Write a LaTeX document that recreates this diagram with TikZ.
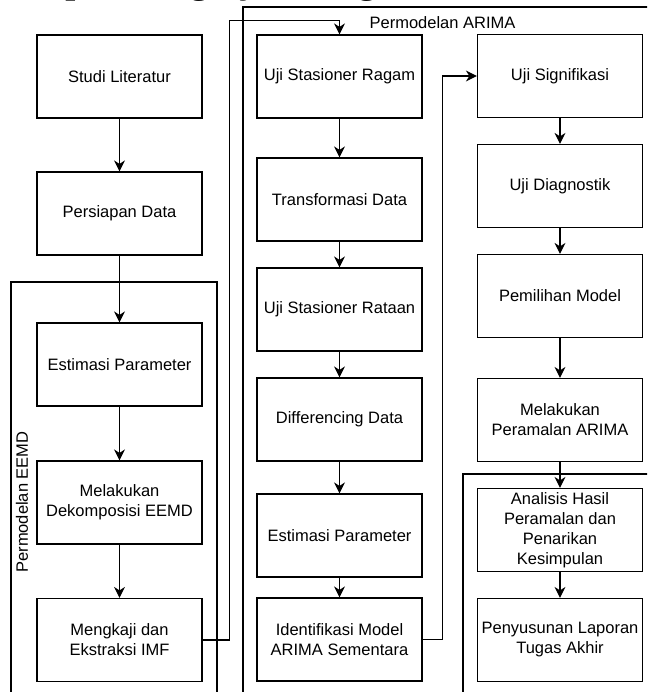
\documentclass[tikz,border=0pt]{standalone}
\usepackage{fontspec}
\setmainfont{Liberation Serif}
\setsansfont{Liberation Sans}
\usetikzlibrary{positioning,arrows.meta}

\tikzset{
  tahap/.style={draw,minimum width=165pt,minimum height=83pt,align=center,inner sep=2pt,font=\sffamily\fontsize{16.5}{20}\selectfont},
  judul/.style={inner sep=0pt,font=\sffamily\fontsize{16.5}{20}\selectfont},
}

\begin{document}
\begin{tikzpicture}[x=1pt,y=-1pt,node distance=110pt,>={Stealth[length=11pt,width=11pt,inset=3.5pt]},line width=1.2pt]
\useasboundingbox (0,0) rectangle (647,692);
\clip (0,0) rectangle (647,692);

% judul bab yang terpotong
\node[anchor=base west,inner sep=0pt,font=\bfseries\fontsize{36}{40}\selectfont] (judulbab) at (-12,-6) {Tahapan Pengerjaan Tugas};

% kolom kiri
\node[tahap] at (119.5,76.5) (studi) {Studi Literatur};
\node[tahap,below of=studi,yshift=-27pt] (persiapan) {Persiapan Data};
\node[tahap,below of=persiapan,yshift=-41pt] (estimasi) {Estimasi Parameter};
\node[tahap,below of=estimasi,yshift=-28pt] (dekomposisi) {Melakukan\\Dekomposisi EEMD};
\node[tahap,below of=dekomposisi,yshift=-27.5pt] (imf) {Mengkaji dan\\Ekstraksi IMF};

% kolom tengah
\node[tahap] at (339.5,76.5) (ragam) {Uji Stasioner Ragam};
\node[tahap,below of=ragam,yshift=-13pt] (transformasi) {Transformasi Data};
\node[tahap,below of=transformasi] (rataan) {Uji Stasioner Rataan};
\node[tahap,below of=rataan] (differencing) {Differencing Data};
\node[tahap,below of=differencing,yshift=-6pt] (estimasiB) {Estimasi Parameter};
\node[tahap,below of=estimasiB,yshift=6pt] (identifikasi) {Identifikasi Model\\ARIMA Sementara};

% kolom kanan
\node[tahap] at (560,76) (signif) {Uji Signifikasi};
\node[tahap,below of=signif] (diagnostik) {Uji Diagnostik};
\node[tahap,below of=diagnostik] (pemilihan) {Pemilihan Model};
\node[tahap,below of=pemilihan,yshift=-14pt] (peramalan) {Melakukan\\Peramalan ARIMA};
\node[tahap,below of=peramalan] (analisis) {Analisis Hasil\\Peramalan dan\\Penarikan\\Kesimpulan};
\node[tahap,below of=analisis] (penyusunan) {Penyusunan Laporan\\Tugas Akhir};

% kelompok
\draw (11,710) |- (217,282) -- (217,710);
\draw (243,710) |- (660,7);
\draw (463,710) |- (660,474);
\node[judul,rotate=90] (lbleemd) at (22,502) {Permodelan EEMD};
\node[judul,anchor=west] (lblarima) at (369,23) {Permodelan ARIMA};

\draw [->] (studi) -- (persiapan);
\draw [->] (persiapan) -- (estimasi);
\draw [->] (estimasi) -- (dekomposisi);
\draw [->] (dekomposisi) -- (imf);
\draw [->] (imf.east) -- ++(27pt,0) |- ([yshift=14pt]ragam.north) -- (ragam.north);
\draw [->] (ragam) -- (transformasi);
\draw [->] (transformasi) -- (rataan);
\draw [->] (rataan) -- (differencing);
\draw [->] (differencing) -- (estimasiB);
\draw [->] (estimasiB) -- (identifikasi);
\draw [->] (identifikasi.east) -- ++(20pt,0) |- (signif.west);
\draw [->] (signif) -- (diagnostik);
\draw [->] (diagnostik) -- (pemilihan);
\draw [->] (pemilihan) -- (peramalan);
\draw [->] (peramalan) -- (analisis);
\draw [->] (analisis) -- (penyusunan);
\end{tikzpicture}
\end{document}
